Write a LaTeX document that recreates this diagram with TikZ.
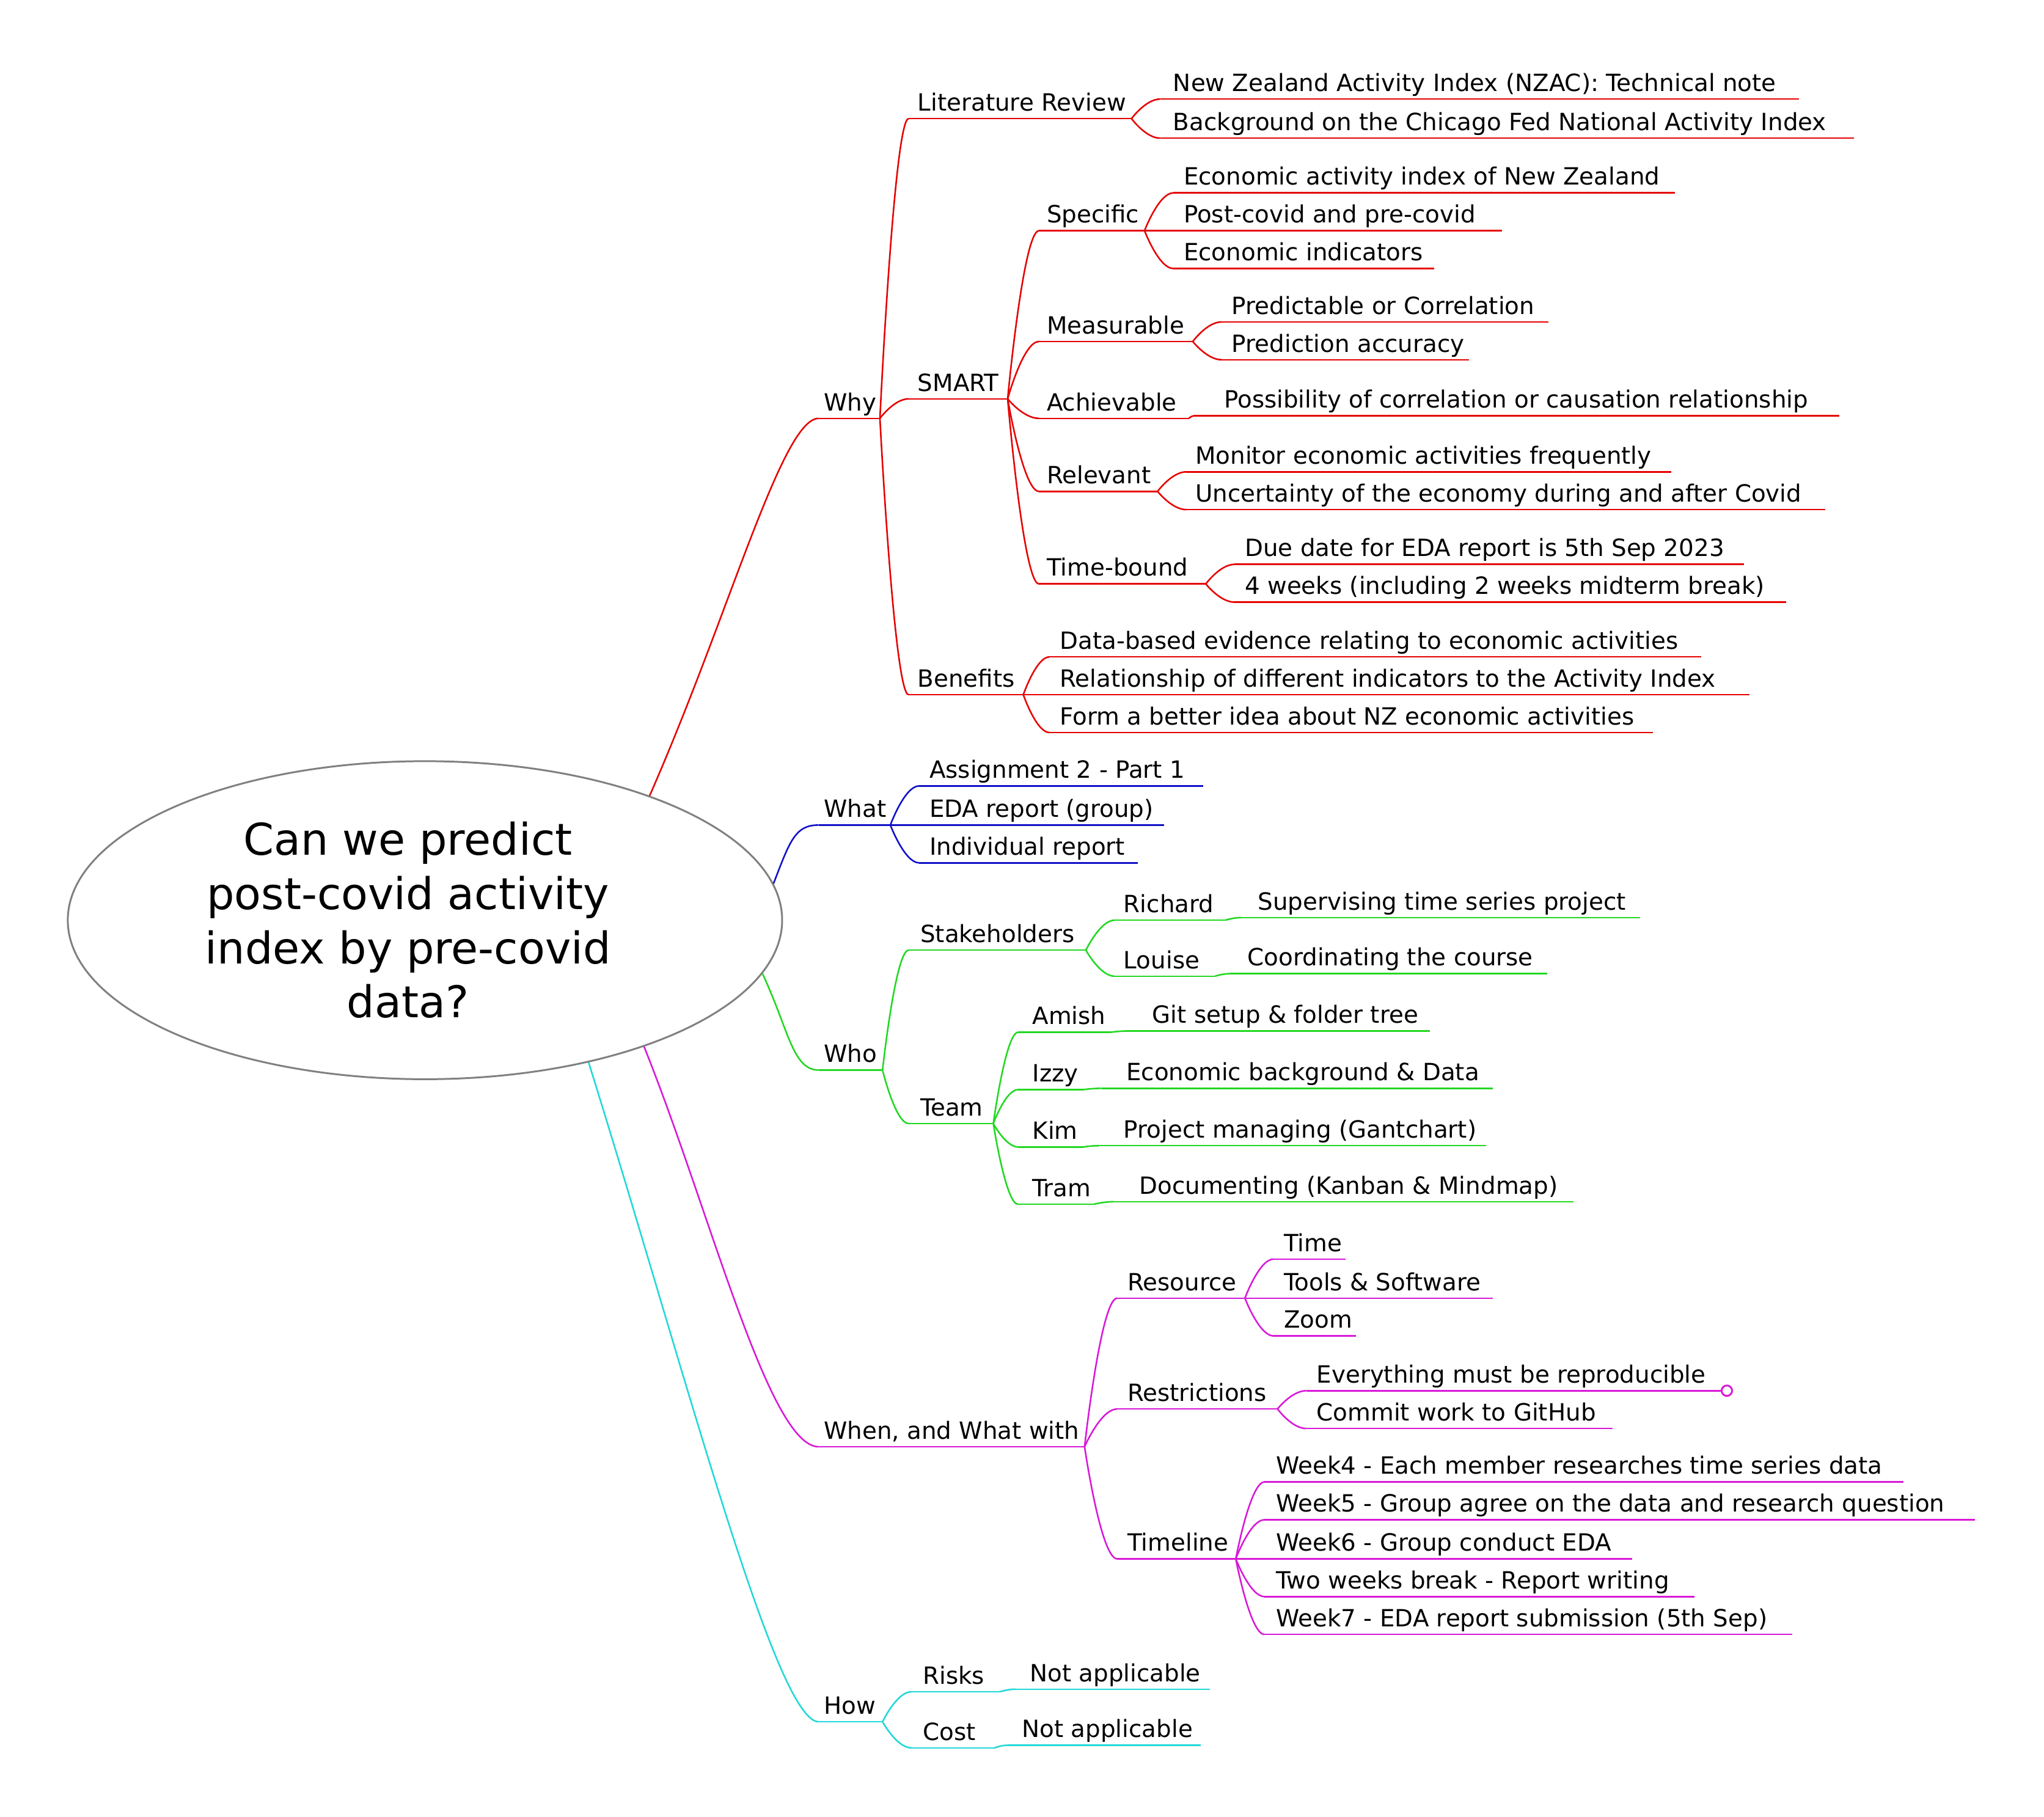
\documentclass[tikz,border=0pt]{standalone}
\usepackage{fontspec}
\setmainfont{DejaVu Sans}
\usetikzlibrary{calc,shapes.geometric}
\definecolor{mred}{HTML}{E60000}
\definecolor{mblue}{HTML}{1010C8}
\definecolor{mgreen}{HTML}{22D822}
\definecolor{mmag}{HTML}{D818D8}
\definecolor{mcyan}{HTML}{22D8D8}
\definecolor{mgray}{HTML}{808080}
\newcommand{\mitem}[7]{%
  \node[mtext] (#1) at (#3,#4-6) {#7};
  \coordinate (#1-l) at (#5,#4);
  \coordinate (#1-r) at (#6,#4);
  \draw[mline,#2] (#1-l) -- (#1-r);}
\newcommand{\medge}[3]{%
  \draw[mline,#1] let \p1=(#2), \p2=(#3), \p3=($(\p1)!0.5!(\p2)$) in
    (\p1) .. controls (\p1) and (\x3,\y2) .. (\p2);}
\begin{document}
\begin{tikzpicture}[x=0.5pt,y=-0.5pt,
  mtext/.style={anchor=base west,inner sep=0pt,outer sep=0pt,font=\fontsize{9.1pt}{11pt}\selectfont},
  mline/.style={line width=0.6pt},
  rootshape/.style={ellipse,draw=mgray,line width=0.7pt,minimum width=274pt,minimum height=122pt,inner sep=0pt},
  roottext/.style={align=center,inner sep=0pt,font=\fontsize{16.8pt}{20.8pt}\selectfont}]
\path[fill=white] (0,0) rectangle (1568,1394);
\useasboundingbox (0,0) rectangle (1568,1394);
% root
\node[rootshape] (root) at (326,706) {};
\node[roottext] (rootlabel) at (313,706) {Can we predict\\post-covid activity\\index by pre-covid\\data?};
% ---------- Why (red)
\mitem{why}{mred}{632}{321}{628}{675}{Why}
\mitem{litrev}{mred}{704}{91}{697}{868}{Literature Review}
\mitem{lit1}{mred}{900}{76}{890}{1380}{New Zealand Activity Index (NZAC): Technical note}
\mitem{lit2}{mred}{900}{106}{890}{1422}{Background on the Chicago Fed National Activity Index}
\mitem{smart}{mred}{704}{306}{697}{773}{SMART}
\mitem{spec}{mred}{803}{177}{797}{878}{Specific}
\mitem{spec1}{mred}{908}{148}{900}{1285}{Economic activity index of New Zealand}
\mitem{spec2}{mred}{908}{177}{900}{1152}{Post-covid and pre-covid}
\mitem{spec3}{mred}{908}{206}{900}{1100}{Economic indicators}
\mitem{meas}{mred}{803}{262}{797}{915}{Measurable}
\mitem{meas1}{mred}{945}{247}{937}{1188}{Predictable or Correlation}
\mitem{meas2}{mred}{945}{276}{937}{1127}{Prediction accuracy}
\mitem{ach}{mred}{803}{321}{797}{912}{Achievable}
\mitem{ach1}{mred}{939}{319}{916}{1411}{Possibility of correlation or causation relationship}
\mitem{rel}{mred}{803}{377}{797}{888}{Relevant}
\mitem{rel1}{mred}{917}{362}{910}{1282}{Monitor economic activities frequently}
\mitem{rel2}{mred}{917}{391}{910}{1400}{Uncertainty of the economy during and after Covid}
\mitem{tb}{mred}{803}{448}{797}{925}{Time-bound}
\mitem{tb1}{mred}{955}{433}{947}{1338}{Due date for EDA report is 5th Sep 2023}
\mitem{tb2}{mred}{955}{462}{947}{1370}{4 weeks (including 2 weeks midterm break)}
\mitem{ben}{mred}{704}{533}{697}{785}{Benefits}
\mitem{ben1}{mred}{813}{504}{805}{1305}{Data-based evidence relating to economic activities}
\mitem{ben2}{mred}{813}{533}{805}{1342}{Relationship of different indicators to the Activity Index}
\mitem{ben3}{mred}{813}{562}{805}{1268}{Form a better idea about NZ economic activities}
\draw[mline,mred] (root.29.3) .. controls (560,470) and (600,321) .. (why-l);
\medge{mred}{why-r}{litrev-l}
\medge{mred}{why-r}{smart-l}
\medge{mred}{why-r}{ben-l}
\medge{mred}{litrev-r}{lit1-l}
\medge{mred}{litrev-r}{lit2-l}
\medge{mred}{smart-r}{spec-l}
\medge{mred}{smart-r}{meas-l}
\medge{mred}{smart-r}{ach-l}
\medge{mred}{smart-r}{rel-l}
\medge{mred}{smart-r}{tb-l}
\medge{mred}{spec-r}{spec1-l}
\medge{mred}{spec-r}{spec2-l}
\medge{mred}{spec-r}{spec3-l}
\medge{mred}{meas-r}{meas1-l}
\medge{mred}{meas-r}{meas2-l}
\medge{mred}{ach-r}{ach1-l}
\medge{mred}{rel-r}{rel1-l}
\medge{mred}{rel-r}{rel2-l}
\medge{mred}{tb-r}{tb1-l}
\medge{mred}{tb-r}{tb2-l}
\medge{mred}{ben-r}{ben1-l}
\medge{mred}{ben-r}{ben2-l}
\medge{mred}{ben-r}{ben3-l}
% ---------- What (blue)
\mitem{what}{mblue}{632}{633}{628}{683}{What}
\mitem{what1}{mblue}{713}{603}{705}{923}{Assignment 2 - Part 1}
\mitem{what2}{mblue}{713}{633}{705}{893}{EDA report (group)}
\mitem{what3}{mblue}{713}{662}{705}{873}{Individual report}
\draw[mline,mblue] (root.6.2) .. controls (606,645) and (610,633) .. (what-l);
\medge{mblue}{what-r}{what1-l}
\medge{mblue}{what-r}{what2-l}
\medge{mblue}{what-r}{what3-l}
% ---------- Who (green)
\mitem{who}{mgreen}{632}{821}{628}{677}{Who}
\mitem{stake}{mgreen}{706}{729}{697}{833}{Stakeholders}
\mitem{rich}{mgreen}{862}{706}{855}{940}{Richard}
\mitem{rich1}{mgreen}{965}{704}{952}{1258}{Supervising time series project}
\mitem{lou}{mgreen}{862}{749}{855}{932}{Louise}
\mitem{lou1}{mgreen}{957}{747}{944}{1187}{Coordinating the course}
\mitem{team}{mgreen}{706}{862}{697}{762}{Team}
\mitem{amish}{mgreen}{792}{792}{781}{852}{Amish}
\mitem{amish1}{mgreen}{884}{791}{865}{1097}{Git setup \& folder tree}
\mitem{izzy}{mgreen}{792}{836}{781}{831}{Izzy}
\mitem{izzy1}{mgreen}{864}{835}{845}{1145}{Economic background \& Data}
\mitem{kim}{mgreen}{792}{880}{781}{831}{Kim}
\mitem{kim1}{mgreen}{862}{879}{843}{1140}{Project managing (Gantchart)}
\mitem{tram}{mgreen}{792}{924}{781}{839}{Tram}
\mitem{tram1}{mgreen}{874}{922}{854}{1207}{Documenting (Kanban \& Mindmap)}
\draw[mline,mgreen] (root.-9.3) .. controls (605,790) and (608,821) .. (who-l);
\medge{mgreen}{who-r}{stake-l}
\medge{mgreen}{who-r}{team-l}
\medge{mgreen}{stake-r}{rich-l}
\medge{mgreen}{stake-r}{lou-l}
\medge{mgreen}{rich-r}{rich1-l}
\medge{mgreen}{lou-r}{lou1-l}
\medge{mgreen}{team-r}{amish-l}
\medge{mgreen}{team-r}{izzy-l}
\medge{mgreen}{team-r}{kim-l}
\medge{mgreen}{team-r}{tram-l}
\medge{mgreen}{amish-r}{amish1-l}
\medge{mgreen}{izzy-r}{izzy1-l}
\medge{mgreen}{kim-r}{kim1-l}
\medge{mgreen}{tram-r}{tram1-l}
% ---------- When (magenta)
\mitem{when}{mmag}{632}{1110}{628}{832}{When, and What with}
\mitem{res}{mmag}{865}{996}{857}{955}{Resource}
\mitem{res1}{mmag}{985}{966}{977}{1032}{Time}
\mitem{res2}{mmag}{985}{996}{977}{1145}{Tools \& Software}
\mitem{res3}{mmag}{985}{1025}{977}{1040}{Zoom}
\mitem{restr}{mmag}{865}{1081}{857}{980}{Restrictions}
\mitem{restr1}{mmag}{1010}{1067}{1002}{1320}{Everything must be reproducible}
\mitem{restr2}{mmag}{1010}{1096}{1002}{1237}{Commit work to GitHub}
\mitem{tl}{mmag}{865}{1196}{857}{948}{Timeline}
\mitem{tl1}{mmag}{979}{1137}{970}{1460}{Week4 - Each member researches time series data}
\mitem{tl2}{mmag}{979}{1166}{970}{1515}{Week5 - Group agree on the data and research question}
\mitem{tl3}{mmag}{979}{1196}{970}{1252}{Week6 - Group conduct EDA}
\mitem{tl4}{mmag}{979}{1225}{970}{1300}{Two weeks break - Report writing}
\mitem{tl5}{mmag}{979}{1254}{970}{1375}{Week7 - EDA report submission (5th Sep)}
\node[circle,draw=mmag,line width=0.7pt,minimum size=4pt,inner sep=0pt,anchor=west] (restrmark) at (restr1-r) {};
\draw[mline,mmag] (root.-30.4) .. controls (545,930) and (590,1110) .. (when-l);
\medge{mmag}{when-r}{res-l}
\medge{mmag}{when-r}{restr-l}
\medge{mmag}{when-r}{tl-l}
\medge{mmag}{res-r}{res1-l}
\medge{mmag}{res-r}{res2-l}
\medge{mmag}{res-r}{res3-l}
\medge{mmag}{restr-r}{restr1-l}
\medge{mmag}{restr-r}{restr2-l}
\medge{mmag}{tl-r}{tl1-l}
\medge{mmag}{tl-r}{tl2-l}
\medge{mmag}{tl-r}{tl3-l}
\medge{mmag}{tl-r}{tl4-l}
\medge{mmag}{tl-r}{tl5-l}
% ---------- How (cyan)
\mitem{how}{mcyan}{632}{1321}{628}{677}{How}
\mitem{risks}{mcyan}{708}{1298}{699}{767}{Risks}
\mitem{risks1}{mcyan}{790}{1296}{779}{928}{Not applicable}
\mitem{cost}{mcyan}{708}{1341}{699}{763}{Cost}
\mitem{cost1}{mcyan}{784}{1339}{773}{921}{Not applicable}
\draw[mline,mcyan] (root.-41.5) .. controls (525,1050) and (595,1321) .. (how-l);
\medge{mcyan}{how-r}{risks-l}
\medge{mcyan}{how-r}{cost-l}
\medge{mcyan}{risks-r}{risks1-l}
\medge{mcyan}{cost-r}{cost1-l}
\end{tikzpicture}
\end{document}
